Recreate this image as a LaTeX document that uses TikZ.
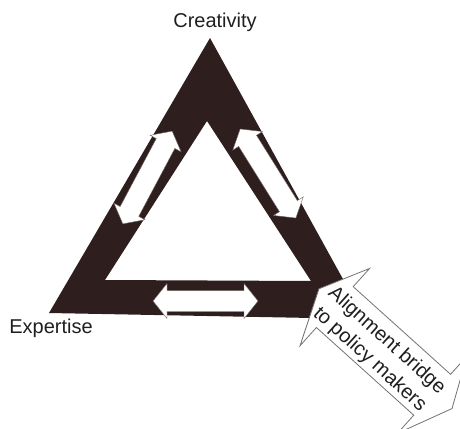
\documentclass[tikz,border=0pt]{standalone}
\usepackage{fontspec}
\setmainfont{Liberation Sans}
\definecolor{tri}{RGB}{46,30,30}
\begin{document}
\begin{tikzpicture}[x=1pt,y=-1pt,
  lbl/.style={font=\fontsize{20}{25.5}\selectfont, text=black!88, inner sep=0pt},
  smallarr/.style={fill=white, draw=tri!70, line width=0.4pt, line join=miter},
  bigarr/.style={fill=white, draw=black!55, line width=0.8pt, line join=miter}]
\useasboundingbox (0,0) rectangle (460,428);
\clip (0,0) rectangle (460,428);
% triangle band
\fill[tri, even odd rule] (210,38) -- (49,313) -- (365,319) -- cycle
                          (207,121) -- (105,280) -- (311,281) -- cycle;
% small double arrows
\foreach \cx/\cy/\ang in {147.5/177.5/62, 268/173.5/-58, 205.5/301/0} {
  \begin{scope}[shift={(\cx,\cy)}, rotate=\ang]
    \path[smallarr] (-52.5,0) -- (-38.5,-17.5) -- (-38.5,-10.5) -- (38.5,-10.5)
      -- (38.5,-17.5) -- (52.5,0) -- (38.5,17.5) -- (38.5,10.5)
      -- (-38.5,10.5) -- (-38.5,17.5) -- cycle;
  \end{scope}
}
% big double arrow
\begin{scope}[shift={(329.6,302.4)}, rotate=-42]
  \path[bigarr] (-17,-3) -- (7,-52) -- (7,-27.5) -- (138,-27.5) -- (138,-52)
    -- (162,-3) -- (138,52) -- (138,27.5) -- (7,27.5) -- (7,52) -- cycle;
  \node[lbl, align=center, rotate=-42] (bridge) at (68,3) {Alignment bridge\\to policy makers};
\end{scope}
% labels
\node[lbl, anchor=base] (creativity) at (215,28) {Creativity};
\node[lbl, anchor=base] (expertise) at (51,333) {Expertise};
\end{tikzpicture}
\end{document}
